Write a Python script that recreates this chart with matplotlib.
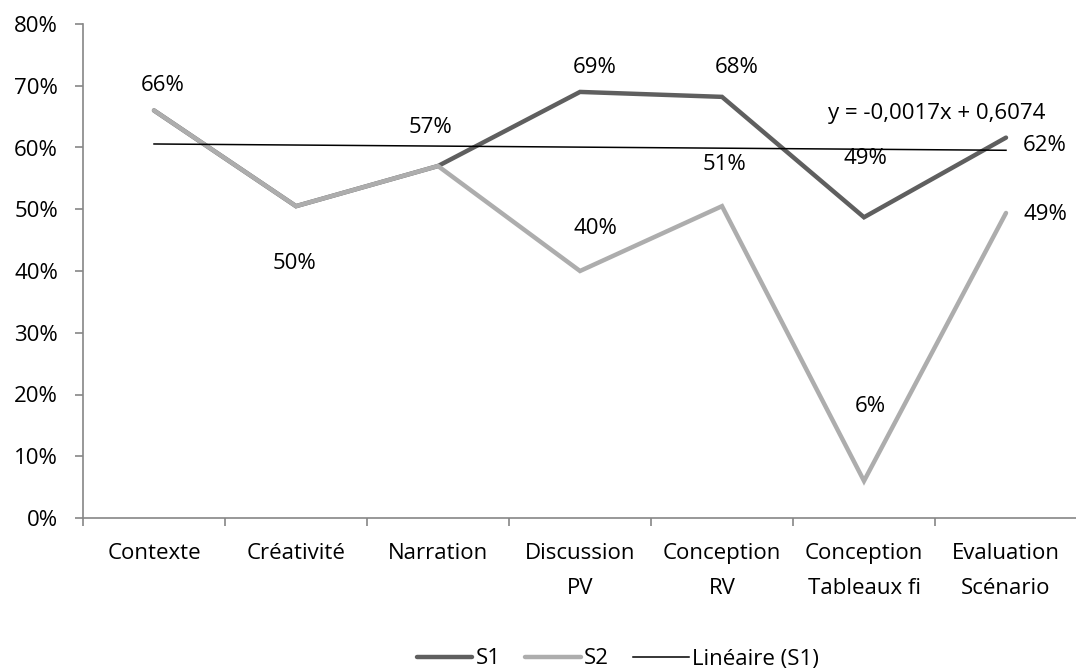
import numpy as np
import matplotlib.pyplot as plt

plt.rcParams['font.family'] = ['Open Sans', 'DejaVu Sans']

categories = ['Contexte', 'Créativité', 'Narration', 'Discussion\nPV', 'Conception\nRV',
              'Conception\nTableaux fi', 'Evaluation\nScénario']
s1 = [0.66, 0.505, 0.57, 0.69, 0.682, 0.487, 0.616]
s2 = [0.66, 0.505, 0.57, 0.40, 0.505, 0.06, 0.494]
# droite de tendance affichée sur le graphe (Excel)
pente = -0.0017
ordonnee = 0.6074

# étiquettes : (index, valeur, texte, décalage en pixels)
etiquettes = [
    (0, s1[0], '66%', (9, 25)),
    (1, s2[1], '50%', (-1, -57)),
    (2, s1[2], '57%', (-8, 39)),
    (3, s1[3], '69%', (15, 24)),
    (3, s2[3], '40%', (15, 43)),
    (4, s1[4], '68%', (15, 29)),
    (4, s2[4], '51%', (3, 42)),
    (5, s1[5], '49%', (1, 59)),
    (5, s2[5], '6%', (6, 74)),
    (6, s1[6], '62%', (39, -8)),
    (6, s2[6], '49%', (39, -2)),
]

gris_axe = '#868686'
taille = 16
x = np.arange(len(categories))

fig = plt.figure(figsize=(10.76, 6.7), dpi=100)
ax = fig.add_axes([83/1076, 1 - 518/670, 994/1076, (518-24)/670])

ax.plot(x, s1, color='#5f5f5f', lw=3.2, solid_capstyle='round', solid_joinstyle='miter', label='S1', zorder=2)
ax.plot(x, s2, color='#adadad', lw=3.2, solid_capstyle='round', solid_joinstyle='miter', label='S2', zorder=3)
xt = np.arange(1, len(categories) + 1)
ax.plot(x, pente * xt + ordonnee, color='black', lw=1.1, label='Linéaire (S1)', zorder=4)

for i, v, t, (dx, dy) in etiquettes:
    ax.annotate(t, (i, v), xytext=(dx * 0.72, dy * 0.72), textcoords='offset points',
                ha='center', va='center', fontsize=taille)

ax.text(937/1076, 1 - 113/670, 'y = -0,0017x + 0,6074', transform=fig.transFigure,
        ha='center', va='center', fontsize=taille)

ax.set_xlim(-0.5, len(categories) - 0.5)
ax.set_ylim(0, 0.8)
ax.set_yticks(np.arange(0, 0.81, 0.1))
ax.set_yticklabels([f'{int(round(v*100))}%' for v in np.arange(0, 0.81, 0.1)], fontsize=taille)
ax.set_xticks(x)
ax.set_xticklabels(categories, fontsize=taille, linespacing=1.85)
ax.set_xticks(np.arange(-0.5, len(categories)), minor=True)
ax.tick_params(axis='x', which='major', length=0, pad=18)
ax.tick_params(axis='x', which='minor', length=6, color=gris_axe, width=1.2)
ax.tick_params(axis='y', length=6, color=gris_axe, width=1.2, pad=12)

for s in ['top', 'right']:
    ax.spines[s].set_visible(False)
for s in ['left', 'bottom']:
    ax.spines[s].set_color(gris_axe)
    ax.spines[s].set_linewidth(1.2)

fig.legend(loc='center', bbox_to_anchor=(618/1076, 1 - 659/670), ncol=3, frameon=False,
           fontsize=taille, handlelength=2.5, handletextpad=0.15, columnspacing=1.1)

plt.savefig('out.png', dpi=100)
